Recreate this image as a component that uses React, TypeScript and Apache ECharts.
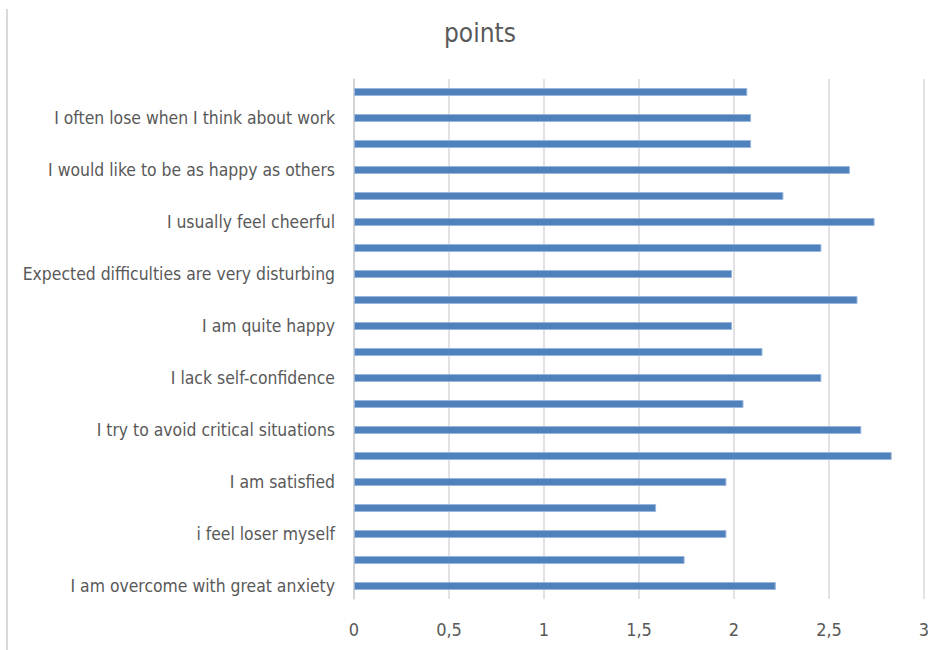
import React, { useEffect, useRef } from "react";
import * as echarts from "echarts";

const categories = [
  "I am overcome with great anxiety",
  "Item 2",
  "i feel loser myself",
  "Item 4",
  "I am satisfied",
  "Item 6",
  "I try to avoid critical situations",
  "Item 8",
  "I lack self-confidence",
  "Item 10",
  "I am quite happy",
  "Item 12",
  "Expected difficulties are very disturbing",
  "Item 14",
  "I usually feel cheerful",
  "Item 16",
  "I would like to be as happy as others",
  "Item 18",
  "I often lose when I think about work",
  "Item 20",
];

const values = [
  2.22, 1.74, 1.96, 1.59, 1.96, 2.83, 2.67, 2.05, 2.46, 2.15,
  1.99, 2.65, 1.99, 2.46, 2.74, 2.26, 2.61, 2.09, 2.09, 2.07,
];

const titleText = "points";
const FONT = "'Liberation Sans Narrow', 'DejaVu Sans Condensed', sans-serif";

export default function App() {
  const ref = useRef<HTMLDivElement>(null);
  useEffect(() => {
    if (!ref.current) return;
    const chart = echarts.init(ref.current, undefined, { renderer: "svg" });
    chart.setOption({
      animation: false,
      backgroundColor: "#ffffff",
      title: {
        text: titleText,
        left: 439,
        top: 15,
        textStyle: { fontFamily: FONT, fontSize: 26, fontWeight: "normal", color: "#595959" },
      },
      grid: { left: 354, right: 17, top: 79, bottom: 51, containLabel: false },
      xAxis: {
        type: "value",
        min: 0,
        max: 3,
        interval: 0.5,
        axisLine: { show: false },
        axisTick: { show: false },
        splitLine: { show: true, lineStyle: { color: "#d9d9d9", width: 1.5 } },
        axisLabel: {
          fontFamily: FONT,
          fontSize: 18,
          color: "#595959",
          margin: 21,
          formatter: (v: number) => String(v).replace(".", ","),
        },
      },
      yAxis: {
        type: "category",
        data: categories,
        axisTick: { show: false },
        axisLine: { show: true, lineStyle: { color: "#d0d0d0", width: 1.5 } },
        axisLabel: {
          interval: 1,
          fontFamily: FONT,
          fontSize: 17.4,
          color: "#595959",
          margin: 19,
        },
      },
      series: [
        {
          type: "bar",
          data: values,
          barWidth: 8,
          itemStyle: { color: "#4f81bd", borderColor: "#9ab6dc", borderWidth: 1 },
        },
      ],
      graphic: [
        {
          type: "line",
          shape: { x1: 7, y1: 9, x2: 7, y2: 650 },
          style: { stroke: "#d9d9d9", lineWidth: 2 },
        },
      ],
    });
    return () => chart.dispose();
  }, []);
  return (
    <div
      ref={ref}
      style={{ position: "fixed", left: 0, top: 0, width: 941, height: 650 }}
    />
  );
}
